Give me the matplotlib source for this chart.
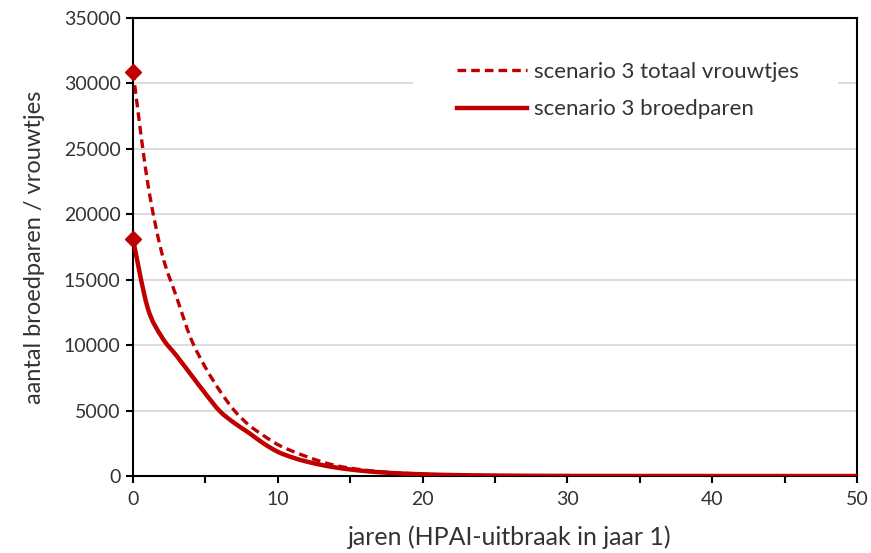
import matplotlib
matplotlib.use("Agg")
import matplotlib.pyplot as plt
from matplotlib.ticker import MultipleLocator
from matplotlib.path import Path
from matplotlib.patches import PathPatch, Rectangle
from matplotlib.lines import Line2D

years = list(range(0, 51))
totaal_vrouwtjes = [30900, 22500, 17000, 13700, 10500, 8300, 6500, 5000, 3900, 3100,
                    2400, 1900, 1480, 1100, 800, 600, 450, 340, 250, 190,
                    140, 105, 80, 60, 45, 34, 26, 20, 15, 11,
                    8, 6, 5, 4, 3, 2, 2, 1, 1, 1,
                    1, 0, 0, 0, 0, 0, 0, 0, 0, 0, 0]
broedparen = [18100, 12900, 10600, 9200, 7750, 6300, 4950, 4050, 3300, 2500,
              1850, 1420, 1100, 850, 650, 500, 380, 290, 220, 170,
              130, 98, 75, 57, 43, 33, 25, 19, 14, 11,
              8, 6, 5, 4, 3, 2, 2, 1, 1, 1,
              1, 0, 0, 0, 0, 0, 0, 0, 0, 0, 0]
label_totaal = "scenario 3 totaal vrouwtjes"
label_broed = "scenario 3 broedparen"
xlabel = "jaren (HPAI-uitbraak in jaar 1)"
ylabel = "aantal broedparen / vrouwtjes"

plt.rcParams['font.family'] = ['Lato', 'DejaVu Sans']
red = "#c00000"
txt = "#333333"


def smooth_path(xs, ys):
    """Excel-style smoothed line: cubic Bezier segments through the data points."""
    n = len(xs)
    verts = [(xs[0], ys[0])]
    codes = [Path.MOVETO]
    for i in range(n - 1):
        x0, y0 = (xs[i - 1], ys[i - 1]) if i > 0 else (xs[i], ys[i])
        x1, y1 = xs[i], ys[i]
        x2, y2 = xs[i + 1], ys[i + 1]
        x3, y3 = (xs[i + 2], ys[i + 2]) if i + 2 < n else (x2, y2)
        c1 = (x1 + (x2 - x0) / 6.0, y1 + (y2 - y0) / 6.0)
        c2 = (x2 - (x3 - x1) / 6.0, y2 - (y3 - y1) / 6.0)
        verts += [c1, c2, (x2, y2)]
        codes += [Path.CURVE4] * 3
    return Path(verts, codes)


fig = plt.figure(figsize=(8.71, 5.53), dpi=100)
ax = fig.add_axes([133/871, 1-476/553, (857-133)/871, (476-18)/553])

dash = (0, (2.6, 1.5))
ax.add_patch(PathPatch(smooth_path(years, totaal_vrouwtjes), facecolor='none', edgecolor=red,
                       lw=2.4, ls=dash, zorder=3, capstyle='butt'))
ax.add_patch(PathPatch(smooth_path(years, broedparen), facecolor='none', edgecolor=red,
                       lw=3.2, zorder=3))
ax.plot([years[0]], [totaal_vrouwtjes[0]], marker='D', color=red, ms=8, ls='none', zorder=4, clip_on=False)
ax.plot([years[0]], [broedparen[0]], marker='D', color=red, ms=8, ls='none', zorder=4, clip_on=False)

ax.set_xlim(0, 50)
ax.set_ylim(0, 35000)
ax.xaxis.set_major_locator(MultipleLocator(10))
ax.xaxis.set_minor_locator(MultipleLocator(5))
ax.yaxis.set_major_locator(MultipleLocator(5000))
ax.grid(axis='y', color='#d9d9d9', lw=1.3, zorder=0)
ax.set_axisbelow(True)
for s in ax.spines.values():
    s.set_color('black')
    s.set_linewidth(1.5)
ax.tick_params(axis='both', which='major', direction='out', length=5, width=1.5,
               labelsize=14, colors='black', labelcolor=txt)
ax.tick_params(axis='x', which='minor', direction='out', length=5, width=1.5)
ax.tick_params(axis='y', which='major', pad=4)
ax.tick_params(axis='x', which='major', pad=6)

ax.set_xlabel(xlabel, fontsize=18, color=txt)
ax.set_ylabel(ylabel, fontsize=17, color=txt)
ax.xaxis.set_label_coords(0.521, -0.108)
ax.yaxis.set_label_coords(-0.122, 0.5)

# white legend background box
ax.add_patch(Rectangle((0.387, 0.745), 0.974 - 0.387, 0.952 - 0.745, transform=ax.transAxes,
                       facecolor='white', edgecolor='none', zorder=1))
handles = [Line2D([], [], color=red, lw=2.4, ls=dash),
           Line2D([], [], color=red, lw=3.2)]
leg = ax.legend(handles, [label_totaal, label_broed], loc='upper left',
                bbox_to_anchor=(0.4475, 0.905), frameon=False, fontsize=16,
                handlelength=3.15, handletextpad=0.32, labelspacing=0.8,
                borderpad=0, borderaxespad=0)
for t in leg.get_texts():
    t.set_color(txt)

fig.savefig("out.png", dpi=100)
